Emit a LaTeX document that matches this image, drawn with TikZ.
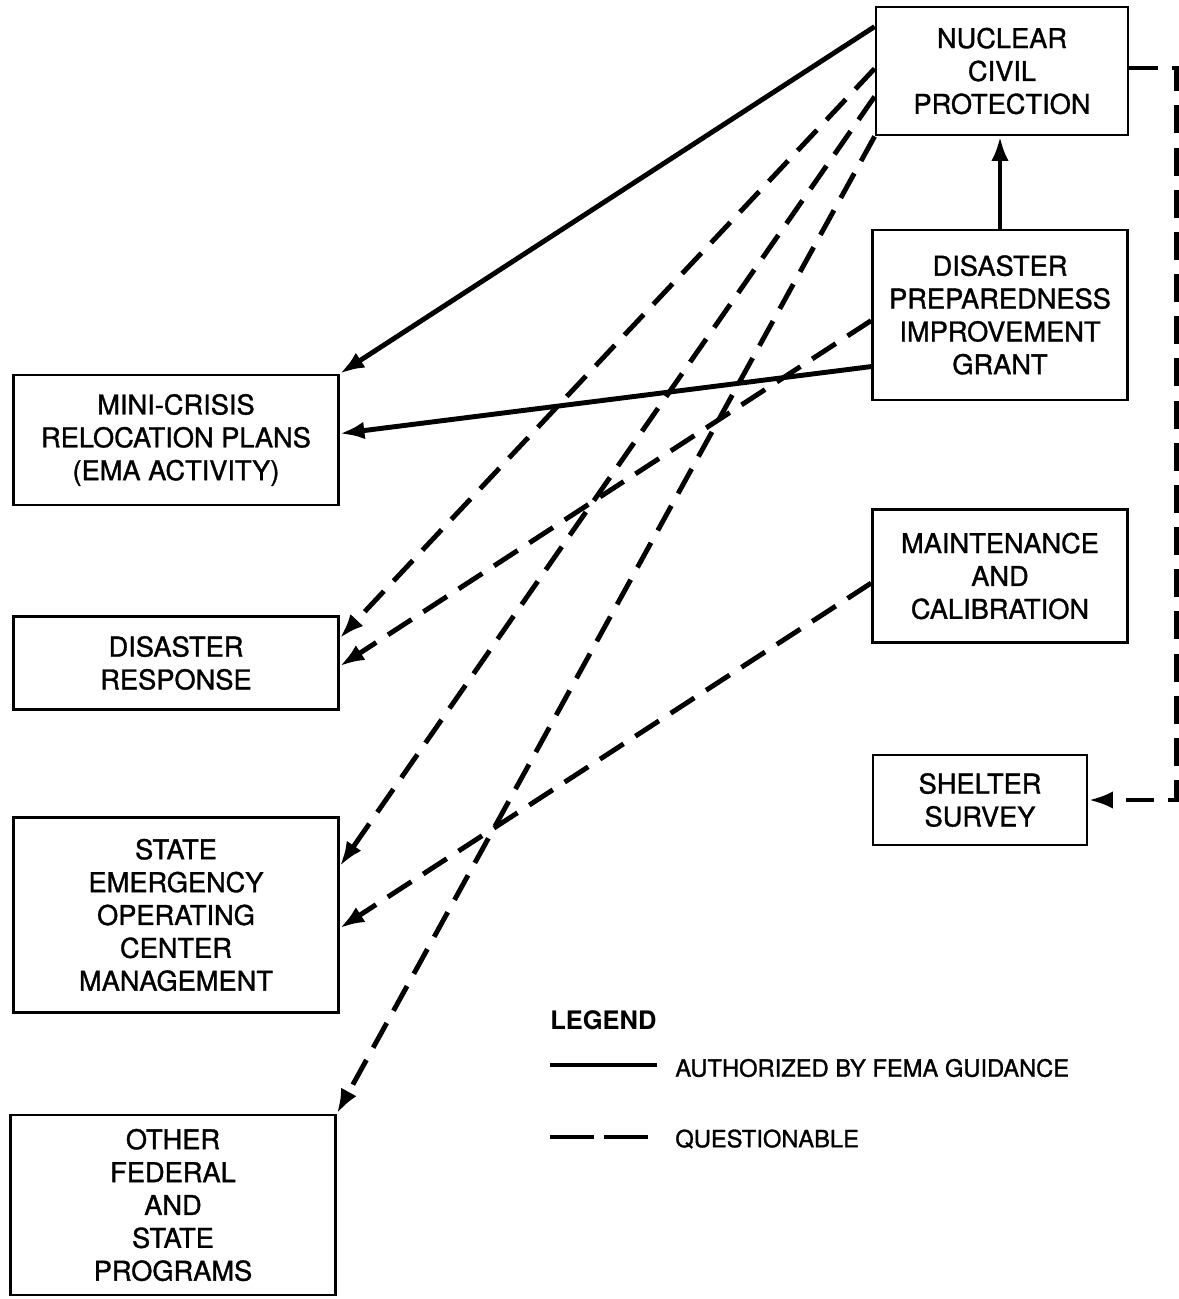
\documentclass[tikz,border=0pt]{standalone}
\usepackage{fontspec}
\setmainfont{TeX Gyre Heros}[UprightFeatures={FakeBold=1.2}]
\usetikzlibrary{arrows.meta}
\begin{document}
\begin{tikzpicture}[x=0.02cm,y=-0.02cm,
    box/.style={draw,line width=1.6pt,align=center,inner sep=0pt,
        font=\fontsize{15.5}{18.7}\selectfont},
    auth/.style={line width=2.8pt,-{Latex[length=14pt,width=10pt]}},
    quest/.style={line width=2.8pt,dash pattern=on 16pt off 8pt,-{Latex[length=14pt,width=10pt]}},
    legtext/.style={anchor=west,inner sep=0pt,font=\fontsize{13.5}{16}\selectfont}]
                \useasboundingbox (0,0) rectangle (1179,1299);
                % Draw nodes
                \node[box,minimum width=5.04cm,minimum height=2.56cm] (ncp) at (1002,71) {NUCLEAR\\CIVIL\\PROTECTION};
                \node[box,minimum width=5.1cm,minimum height=3.4cm] (dpig) at (1000,315) {DISASTER\\PREPAREDNESS\\IMPROVEMENT\\GRANT};
                \node[box,minimum width=5.1cm,minimum height=2.66cm] (maint) at (1000,576) {MAINTENANCE\\AND\\CALIBRATION};
                \node[box,minimum width=4.28cm,minimum height=1.8cm] (shelter) at (980,800) {SHELTER\\SURVEY};
                \node[box,minimum width=6.5cm,minimum height=2.6cm] (mini) at (176,440) {MINI-CRISIS\\RELOCATION PLANS\\(EMA ACTIVITY)};
                \node[box,minimum width=6.5cm,minimum height=1.86cm] (resp) at (176,663) {DISASTER\\RESPONSE};
                \node[box,minimum width=6.5cm,minimum height=3.9cm] (seoc) at (176,915) {STATE\\EMERGENCY\\OPERATING\\CENTER\\MANAGEMENT};
                \node[box,minimum width=6.5cm,minimum height=3.6cm] (other) at (173,1205) {OTHER\\FEDERAL\\AND\\STATE\\PROGRAMS};

                % Draw edges
                \draw[auth] ([yshift=-0.42cm]ncp.north west) -- (mini.north east);
                \draw[auth] ([yshift=-2.76cm]dpig.north west) -- ([yshift=-1.2cm]mini.north east);
                \draw[auth] (dpig.north) -- (dpig.north |- ncp.south);
                \draw[quest] ([yshift=-1.26cm]ncp.north west) -- ([yshift=-0.46cm]resp.north east);
                \draw[quest] ([yshift=-1.84cm]dpig.north west) -- ([yshift=-1.02cm]resp.north east);
                \draw[quest] ([yshift=-1.82cm]ncp.north west) -- ([yshift=-1.0cm]seoc.north east);
                \draw[quest] (ncp.south west) -- (other.north east);
                \draw[quest] ([yshift=-1.5cm]maint.north west) -- ([yshift=-2.24cm]seoc.north east);
                \draw[quest] ([yshift=0.06cm]ncp.east) -- ++(47,0) |- (shelter.east);

                % Legend
                \node[anchor=west,inner sep=0pt,font=\fontsize{14.5}{16}\selectfont\bfseries] (leg) at (550,1020) {LEGEND};
                \node[legtext] (legA) at (675,1068) {AUTHORIZED BY FEMA GUIDANCE};
                \node[legtext] (legQ) at (675,1139) {QUESTIONABLE};
                \coordinate (legAs) at (550,1065);
                \coordinate (legQs) at (550,1137);
                \draw[line width=2.8pt] (legAs) -- (legAs -| 657,0);
                \draw[line width=2.8pt,dash pattern=on 25pt off 5.5pt] (legQs) -- (legQs -| 657,0);
            \end{tikzpicture}
\end{document}
